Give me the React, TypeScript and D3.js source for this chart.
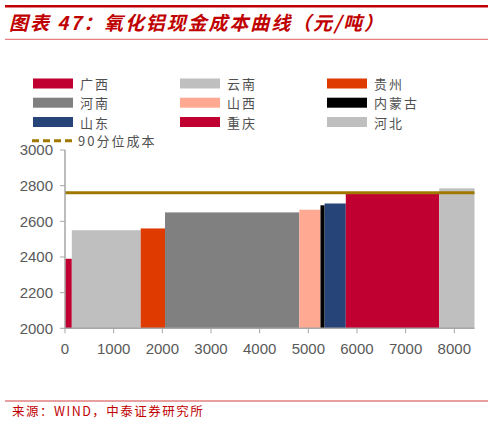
import React from 'react';
import * as d3 from 'd3';

// province order along the cost curve
const provinces = ['广西', '云南', '贵州', '河南', '山西', '内蒙古', '山东', '重庆', '河北'];
// capacity (x width, 万吨) and cash cost (元/吨)
const capacity = [140, 1415, 500, 2760, 435, 85, 435, 1920, 725];
const cashCost = [2390, 2550, 2560, 2650, 2665, 2690, 2700, 2760, 2785];
const barColors = ['#C00030', '#BFBFBF', '#DF3A00', '#808080', '#FFA892', '#000000', '#264478', '#C00030', '#BFBFBF'];
const p90Cost = 2760;
const p90Label = '90分位成本';
const xTicks = [0, 1000, 2000, 3000, 4000, 5000, 6000, 7000, 8000];
const yTicks = [2000, 2200, 2400, 2600, 2800, 3000];

const W = 493;
const H = 424;
const red = '#C00000';
const axisColor = '#A6A6A6';
const tickText = '#595959';
const cjk = '"Noto Sans CJK SC", sans-serif';

const App: React.FC = () => {
    const x = d3.scaleLinear().domain([0, 8000]).range([65, 454.3]);
    const y = d3.scaleLinear().domain([2000, 3000]).range([328.3, 150]);

    const starts = d3.cumsum([0, ...capacity]);
    const total = starts[starts.length - 1];
    const bars = provinces.map((p, i) => ({
        name: p,
        x0: starts[i],
        x1: starts[i + 1],
        cost: cashCost[i],
        color: barColors[i],
    }));

    const legendX = [33, 180, 327];
    const legendY = [78.5, 97.7, 117];

    return (
        <svg width={W} height={H} style={{ position: 'absolute', left: 0, top: 0, background: '#fff' }}>
            {/* header */}
            <rect x={5} y={5} width={483} height={2.5} fill={red} />
            <text
                x={9}
                y={29.5}
                fill={red}
                fontFamily={cjk}
                fontSize={19}
                fontWeight="bold"
                fontStyle="italic"
                textLength={374}
                lengthAdjust="spacing"
            >
                图表 47：氧化铝现金成本曲线（元/吨）
            </text>
            <rect x={5} y={38.8} width={483} height={1} fill="#E06060" />

            {/* legend */}
            {bars.map((b, i) => (
                <g key={b.name}>
                    <rect x={legendX[i % 3]} y={legendY[Math.floor(i / 3)]} width={40} height={10} fill={b.color} />
                    <text
                        x={legendX[i % 3] + 47}
                        y={legendY[Math.floor(i / 3)] + 10.5}
                        fill="#505050"
                        fontFamily={cjk}
                        fontSize={13}
                        letterSpacing={2}
                    >
                        {b.name}
                    </text>
                </g>
            ))}
            <line x1={32} x2={74} y1={140.7} y2={140.7} stroke="#A07800" strokeWidth={3} strokeDasharray="7,4" />
            <text x={78} y={145.5} fill="#505050" fontFamily={cjk} fontSize={13} letterSpacing={2}>
                {p90Label}
            </text>

            {/* bars */}
            {bars.map(b => (
                <rect
                    key={b.name}
                    x={x(b.x0)}
                    y={y(b.cost)}
                    width={x(b.x1) - x(b.x0)}
                    height={y(2000) - y(b.cost)}
                    fill={b.color}
                />
            ))}

            {/* 90th percentile line */}
            <line x1={x(0)} x2={x(total)} y1={y(p90Cost)} y2={y(p90Cost)} stroke="#A07800" strokeWidth={3} />

            {/* axes */}
            <line x1={x(0)} x2={x(0)} y1={y(3000)} y2={y(2000)} stroke={axisColor} strokeWidth={1.5} />
            <line x1={x(0)} x2={x(total)} y1={y(2000)} y2={y(2000)} stroke={axisColor} strokeWidth={1.5} />
            {yTicks.map(t => (
                <g key={t}>
                    <line x1={x(0) - 5} x2={x(0)} y1={y(t)} y2={y(t)} stroke={axisColor} strokeWidth={1} />
                    <text
                        x={53}
                        y={y(t)}
                        dy="0.35em"
                        textAnchor="end"
                        fill={tickText}
                        fontFamily="'Liberation Sans', Arial, sans-serif"
                        fontSize={15}
                    >
                        {t}
                    </text>
                </g>
            ))}
            {xTicks.map(t => (
                <g key={t}>
                    <line x1={x(t)} x2={x(t)} y1={y(2000)} y2={y(2000) + 5} stroke={axisColor} strokeWidth={1} />
                    <text
                        x={x(t)}
                        y={354}
                        textAnchor="middle"
                        fill={tickText}
                        fontFamily="'Liberation Sans', Arial, sans-serif"
                        fontSize={15}
                    >
                        {t}
                    </text>
                </g>
            ))}

            {/* footer */}
            <rect x={5} y={400.5} width={483} height={1} fill="#D04040" />
            <text x={12} y={416} fill={red} fontFamily={cjk} fontSize={12.5} letterSpacing={1.5}>
                来源：WIND，中泰证券研究所
            </text>
        </svg>
    );
};

export default App;
